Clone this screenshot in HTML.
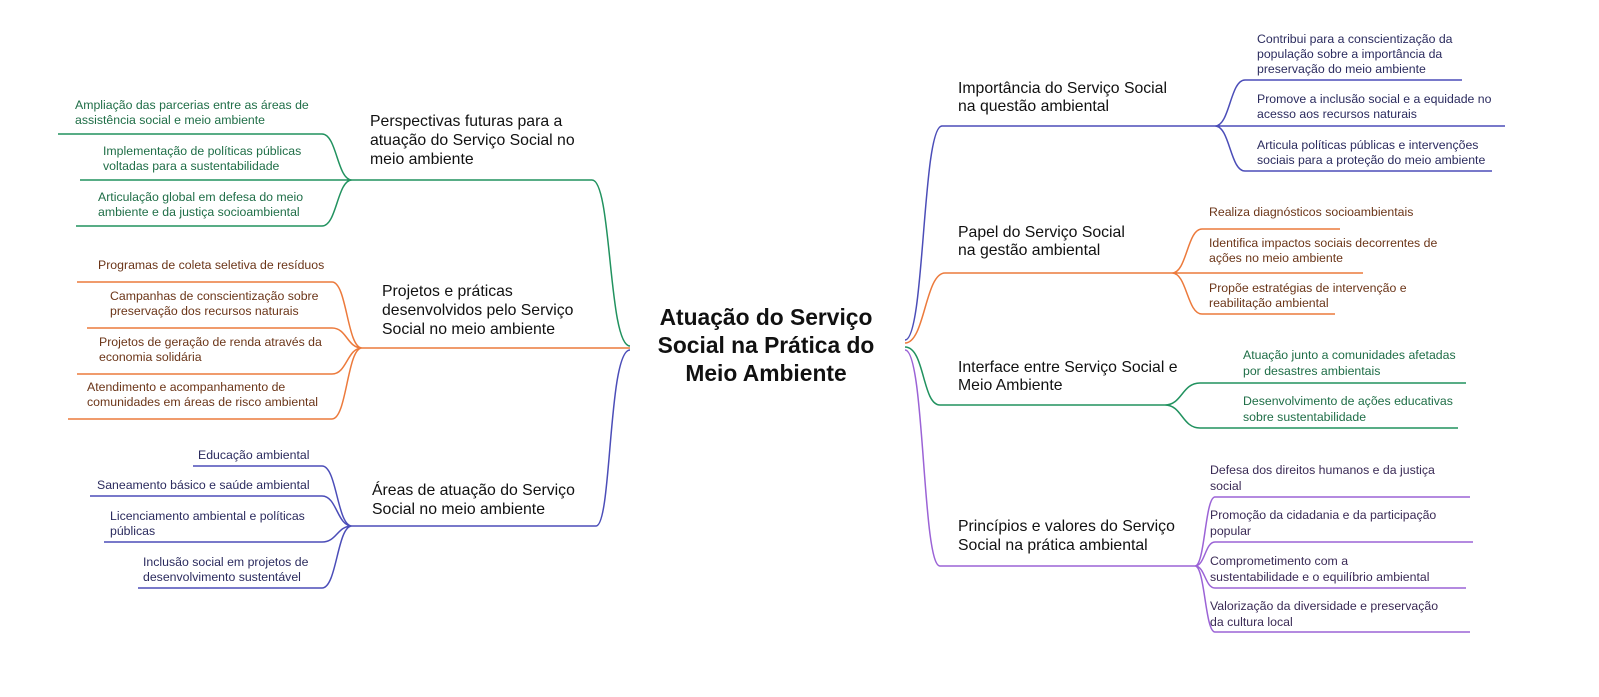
<!DOCTYPE html>
<html><head><meta charset="utf-8"><style>
html,body{margin:0;padding:0;background:#fff;}
svg{display:block;font-family:"Liberation Sans",sans-serif;}
.b{font-size:15.8px;fill:#111;}
.l{font-size:12.3px;}
.g{fill:#1f6e47}.o{fill:#6b3518}.bl{fill:#2b2b5e}.p{fill:#3a2a55}
</style></head><body>
<svg width="1599" height="697" viewBox="0 0 1599 697">
<g fill="none" stroke-width="1.5">
<path stroke="#21925f" d="M630 346 C608 346 612 180 592 180 H352"/>
<path stroke="#ec7a3c" d="M630 348 H362"/>
<path stroke="#4b4db8" d="M630 350 C608 350 612 526 596 526 H352"/>
<path stroke="#21925f" d="M58 134 H322 C337 134 337 180 352 180 M80 180 H352 M76 226 H322 C337 226 337 180 352 180"/>
<path stroke="#ec7a3c" d="M77 282 H332 C347 282 347 348 362 348 M87 328 H332 C347 328 347 348 362 348 M77 374 H332 C347 374 347 348 362 348 M68 419 H332 C347 419 347 348 362 348"/>
<path stroke="#4b4db8" d="M193 466 H322 C337 466 337 526 352 526 M90 496 H322 C337 496 337 526 352 526 M104 542 H322 C337 542 337 526 352 526 M138 588 H322 C337 588 337 526 352 526"/>
<path stroke="#4b4db8" d="M905 340 C925 340 922 126 942 126 H1215"/>
<path stroke="#ec7a3c" d="M905 343 C925 343 925 273 945 273 H1172"/>
<path stroke="#21925f" d="M905 347 C925 347 922 405 940 405 H1165"/>
<path stroke="#9b63d6" d="M905 350 C925 350 922 566 940 566 H1195"/>
<path stroke="#4b4db8" d="M1215 126 C1230 126 1230 80 1245 80 H1462 M1215 126 H1505 M1215 126 C1230 126 1230 171 1245 171 H1492"/>
<path stroke="#ec7a3c" d="M1172 273 C1187 273 1187 229 1202 229 H1340 M1172 273 H1363 M1172 273 C1187 273 1187 314 1202 314 H1335"/>
<path stroke="#21925f" d="M1165 405 C1182 405 1182 383 1200 383 H1466 M1165 405 C1182 405 1182 428 1200 428 H1458"/>
<path stroke="#9b63d6" d="M1195 566 C1205 566 1205 497 1215 497 H1470 M1195 566 C1205 566 1205 542 1215 542 H1473 M1195 566 C1205 566 1205 588 1215 588 H1466 M1195 566 C1205 566 1205 632 1215 632 H1470"/>
</g>
<g font-size="22.8" font-weight="bold" fill="#111" text-anchor="middle">
<text x="766" y="325">Atuação do Serviço</text>
<text x="766" y="353">Social na Prática do</text>
<text x="766" y="381">Meio Ambiente</text>
</g>
<text class="b" x="370" y="126">Perspectivas futuras para a</text>
<text class="b" x="370" y="145">atuação do Serviço Social no</text>
<text class="b" x="370" y="164">meio ambiente</text>
<text class="b" x="382" y="296">Projetos e práticas</text>
<text class="b" x="382" y="315">desenvolvidos pelo Serviço</text>
<text class="b" x="382" y="334">Social no meio ambiente</text>
<text class="b" x="372" y="495">Áreas de atuação do Serviço</text>
<text class="b" x="372" y="514">Social no meio ambiente</text>
<g class="l g">
<text x="75" y="109">Ampliação das parcerias entre as áreas de</text>
<text x="75" y="124">assistência social e meio ambiente</text>
<text x="103" y="155">Implementação de políticas públicas</text>
<text x="103" y="170">voltadas para a sustentabilidade</text>
<text x="98" y="201">Articulação global em defesa do meio</text>
<text x="98" y="216">ambiente e da justiça socioambiental</text>
</g>
<g class="l o">
<text x="98" y="269">Programas de coleta seletiva de resíduos</text>
<text x="110" y="300">Campanhas de conscientização sobre</text>
<text x="110" y="315">preservação dos recursos naturais</text>
<text x="99" y="346">Projetos de geração de renda através da</text>
<text x="99" y="361">economia solidária</text>
<text x="87" y="391">Atendimento e acompanhamento de</text>
<text x="87" y="406">comunidades em áreas de risco ambiental</text>
</g>
<g class="l bl">
<text x="198" y="459">Educação ambiental</text>
<text x="97" y="489">Saneamento básico e saúde ambiental</text>
<text x="110" y="520">Licenciamento ambiental e políticas</text>
<text x="110" y="535">públicas</text>
<text x="143" y="566">Inclusão social em projetos de</text>
<text x="143" y="581">desenvolvimento sustentável</text>
</g>
<text class="b" x="958" y="93">Importância do Serviço Social</text>
<text class="b" x="958" y="111">na questão ambiental</text>
<text class="b" x="958" y="237">Papel do Serviço Social</text>
<text class="b" x="958" y="255">na gestão ambiental</text>
<text class="b" x="958" y="372">Interface entre Serviço Social e</text>
<text class="b" x="958" y="390">Meio Ambiente</text>
<text class="b" x="958" y="531">Princípios e valores do Serviço</text>
<text class="b" x="958" y="550">Social na prática ambiental</text>
<g class="l bl">
<text x="1257" y="43">Contribui para a conscientização da</text>
<text x="1257" y="58">população sobre a importância da</text>
<text x="1257" y="73">preservação do meio ambiente</text>
<text x="1257" y="103">Promove a inclusão social e a equidade no</text>
<text x="1257" y="118">acesso aos recursos naturais</text>
<text x="1257" y="149">Articula políticas públicas e intervenções</text>
<text x="1257" y="164">sociais para a proteção do meio ambiente</text>
</g>
<g class="l o">
<text x="1209" y="216">Realiza diagnósticos socioambientais</text>
<text x="1209" y="247">Identifica impactos sociais decorrentes de</text>
<text x="1209" y="262">ações no meio ambiente</text>
<text x="1209" y="292">Propõe estratégias de intervenção e</text>
<text x="1209" y="307">reabilitação ambiental</text>
</g>
<g class="l g">
<text x="1243" y="359">Atuação junto a comunidades afetadas</text>
<text x="1243" y="375">por desastres ambientais</text>
<text x="1243" y="405">Desenvolvimento de ações educativas</text>
<text x="1243" y="421">sobre sustentabilidade</text>
</g>
<g class="l p">
<text x="1210" y="474">Defesa dos direitos humanos e da justiça</text>
<text x="1210" y="490">social</text>
<text x="1210" y="519">Promoção da cidadania e da participação</text>
<text x="1210" y="535">popular</text>
<text x="1210" y="565">Comprometimento com a</text>
<text x="1210" y="581">sustentabilidade e o equilíbrio ambiental</text>
<text x="1210" y="610">Valorização da diversidade e preservação</text>
<text x="1210" y="626">da cultura local</text>
</g>
</svg>
</body></html>
